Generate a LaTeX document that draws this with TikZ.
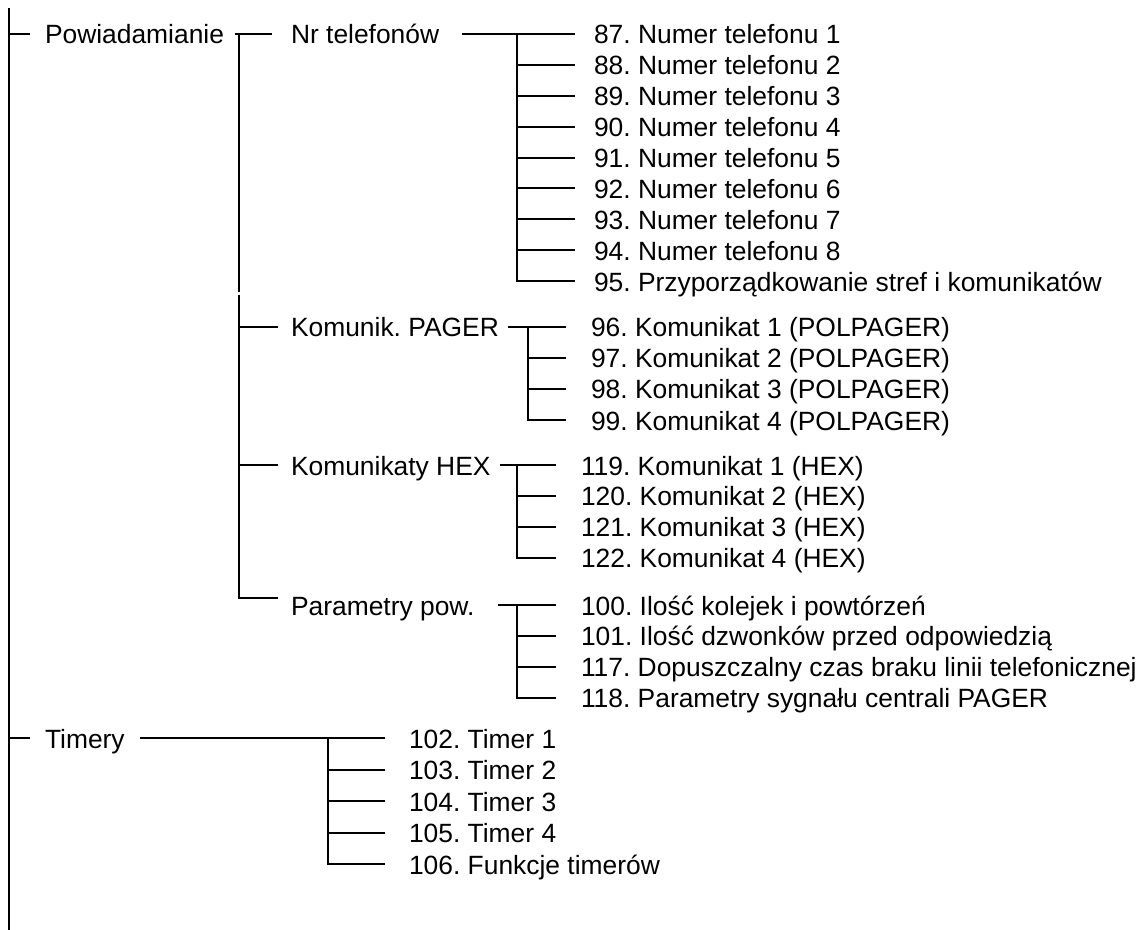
\documentclass[tikz,border=0pt]{standalone}
\usepackage{fontspec}
\setmainfont{Liberation Sans}
\frenchspacing

\tikzset{%
  every item/.style={
    anchor=west,
    inner sep=0pt,
    text height=13pt,
    text depth=3pt,
    font=\fontsize{13.2}{15}\selectfont
  },
}

\begin{document}
\begin{tikzpicture}[x=0.5pt, y=-0.5pt, line width=1pt]

\useasboundingbox (0,0) rectangle (1145,930);

% root
\coordinate (root) at (9,8);
\coordinate (root-end) at (9,930);
\draw (root) -- (root-end);

\node [every item] (pow) at (44,34) {Powiadamianie};
\node [every item] (tim) at (44,738) {Timery};

\foreach \n in {pow,tim}
  \draw (root |- \n.west) -- ([xshift=-7pt]\n.west);

% Powiadamianie
\node [every item] (tel) at (290,34) {Nr telefonów};
\node [every item] (pag) at (290,327) {Komunik. PAGER};
\node [every item] (hex) at (290,465) {Komunikaty HEX};
\node [every item] (par) at (290,605) {Parametry pow.};

\coordinate (pow-j) at (239,34);
\coordinate (pow-k) at (239,295);
\draw ([xshift=5pt]pow.east) -- ([xshift=-9pt]tel.west);
\draw (pow-j) -- ([yshift=1.5pt]pow-k);
\draw (pow-k) |- ([xshift=-6pt,yshift=3.5pt]par.west);

\foreach \n in {pag,hex}
  \draw (pow-k |- \n.west) -- ([xshift=-6pt]\n.west);

% Nr telefonow
\foreach \l [count=\i] in {{87. Numer telefonu 1},{88. Numer telefonu 2},
    {89. Numer telefonu 3},{90. Numer telefonu 4},{91. Numer telefonu 5},
    {92. Numer telefonu 6},{93. Numer telefonu 7},{94. Numer telefonu 8},
    {95. Przyporządkowanie stref i komunikatów}}
  \node [every item] (tel-\i) at (593,{34+30.9*(\i-1)}) {\l};

\coordinate (tel-j) at (517,34);
\draw ([xshift=11pt]tel.east) -- ([xshift=-9pt]tel-1.west);
\draw (tel-j) |- ([xshift=-9pt]tel-9.west);
\foreach \i in {2,...,8}
  \draw (tel-j |- tel-\i.west) -- ([xshift=-9pt]tel-\i.west);

% Komunik. PAGER
\foreach \i in {1,...,4}
  \node [every item] (pag-\i) at (590,{327+31*(\i-1)}) {\the\numexpr95+\i\relax. Komunikat \i\ (POLPAGER)};

\coordinate (pag-j) at (528,327);
\draw ([xshift=4pt]pag.east) -- ([xshift=-12pt]pag-1.west);
\draw (pag-j) |- ([xshift=-12pt]pag-4.west);
\foreach \i in {2,3}
  \draw (pag-j |- pag-\i.west) -- ([xshift=-12pt]pag-\i.west);

% Komunikaty HEX
\foreach \i in {1,...,4}
  \node [every item] (hex-\i) at (580,{465+30.9*(\i-1)}) {\the\numexpr118+\i\relax. Komunikat \i\ (HEX)};

\coordinate (hex-j) at (517,465);
\draw ([xshift=4pt]hex.east) -- ([xshift=-12pt]hex-1.west);
\draw (hex-j) |- ([xshift=-12pt]hex-4.west);
\foreach \i in {2,3}
  \draw (hex-j |- hex-\i.west) -- ([xshift=-12pt]hex-\i.west);

% Parametry pow.
\foreach \l [count=\i] in {{100. Ilość kolejek i powtórzeń},
    {101. Ilość dzwonków przed odpowiedzią},
    {117. Dopuszczalny czas braku linii telefonicznej},
    {118. Parametry sygnału centrali PAGER}}
  \node [every item] (par-\i) at (580,{605+30.9*(\i-1)}) {\l};

\coordinate (par-j) at (517,605);
\draw ([xshift=11.5pt]par.east) -- ([xshift=-12pt]par-1.west);
\draw (par-j) |- ([xshift=-12pt]par-4.west);
\foreach \i in {2,3}
  \draw (par-j |- par-\i.west) -- ([xshift=-12pt]par-\i.west);

% Timery
\foreach \l [count=\i] in {{102. Timer 1},{103. Timer 2},{104. Timer 3},
    {105. Timer 4},{106. Funkcje timerów}}
  \node [every item] (tim-\i) at (408,{738+31.5*(\i-1)}) {\l};

\coordinate (tim-j) at (328,738);
\draw ([xshift=7pt]tim.east) -- ([xshift=-11.5pt]tim-1.west);
\draw (tim-j) |- ([xshift=-11.5pt]tim-5.west);
\foreach \i in {2,...,4}
  \draw (tim-j |- tim-\i.west) -- ([xshift=-11.5pt]tim-\i.west);

\end{tikzpicture}
\end{document}
